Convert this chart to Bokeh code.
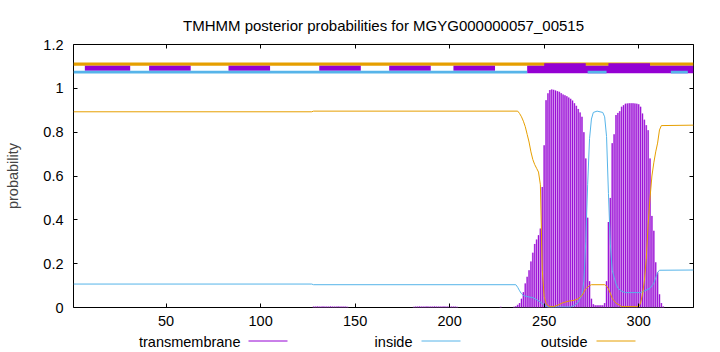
from bokeh.plotting import figure
from bokeh.layouts import column
from bokeh.models import Range1d, FixedTicker, LinearAxis
from bokeh.core.properties import value
from bokeh.embed import file_html
from bokeh.resources import INLINE

# ---------------- data ----------------
title_text = "TMHMM posterior probabilities for MGYG000000057_00515"
seq_start = 1
seq_end = 329

inside_pos = [1, 127, 128, 235, 236, 237, 238, 239, 240, 242, 244, 246, 248, 250, 252,
              264, 266, 268, 270, 271, 272, 273, 274, 275, 276, 278, 281, 282, 283, 284,
              285, 286, 287, 288, 289, 291, 293, 301, 303, 306, 308, 309, 310, 311, 329]
inside_prob = [0.107, 0.107, 0.104, 0.104, 0.092, 0.076, 0.063, 0.055, 0.052, 0.048,
               0.045, 0.036, 0.025, 0.01, 0.002, 0.002, 0.01, 0.023, 0.06, 0.12,
               0.3, 0.56, 0.77, 0.86, 0.89, 0.896, 0.89, 0.87, 0.78, 0.52,
               0.29, 0.17, 0.138, 0.108, 0.088, 0.074, 0.068, 0.068, 0.075, 0.088,
               0.11, 0.135, 0.16, 0.17, 0.171]

outside_pos = [1, 127, 128, 236, 237, 238, 239, 240, 241, 242, 243, 244, 245, 246, 247,
               248, 249, 250, 251, 252, 253, 255, 257, 260, 263, 266, 268, 270, 271, 272,
               274, 275, 282, 283, 284, 285, 286, 287, 288, 290, 291, 300, 301, 302, 303,
               304, 305, 306, 307, 308, 309, 310, 311, 312, 329]
outside_prob = [0.893, 0.893, 0.896, 0.896, 0.885, 0.87, 0.85, 0.825, 0.79, 0.755,
                0.71, 0.675, 0.652, 0.635, 0.618, 0.56, 0.17, 0.05, 0.02, 0.008,
                0.004, 0.004, 0.01, 0.022, 0.029, 0.033, 0.04, 0.055, 0.07, 0.085,
                0.1, 0.104, 0.104, 0.098, 0.085, 0.065, 0.042, 0.03, 0.02, 0.01,
                0.004, 0.004, 0.02, 0.06, 0.12, 0.22, 0.38, 0.5, 0.6, 0.66,
                0.71, 0.75, 0.81, 0.83, 0.832]

tm_pos = ([128, 129, 130, 131, 132, 133, 134, 135, 136, 137, 138, 139, 140, 141, 142, 143,
           144, 145, 146]
          + [181, 182, 183, 184, 185, 186, 187, 188, 189, 190, 191, 192, 193, 194, 195, 196,
             197, 198, 199, 200, 201, 202, 203, 204]
          + [227, 234, 235, 236, 237, 238, 239, 240, 241, 242, 243, 244, 245, 246, 247, 248,
             249, 250, 251, 252, 253, 254, 255, 256, 257, 258, 259, 260, 261, 262, 263, 264,
             265, 266, 267, 268, 269, 270, 271, 272, 273, 274, 275, 276, 277, 278, 279, 280,
             281, 282, 283, 284, 285, 286, 287, 288, 289, 290, 291, 292, 293, 294, 295, 296,
             297, 298, 299, 300, 301, 302, 303, 304, 305, 306, 307, 308, 309, 310, 311, 312,
             313])
tm_prob = ([0.004, 0.004, 0.005, 0.004, 0.004, 0.005, 0.004, 0.004, 0.004, 0.005, 0.004,
            0.004, 0.004, 0.005, 0.004, 0.004, 0.004, 0.004, 0.003]
           + [0.003, 0.004, 0.004, 0.005, 0.004, 0.004, 0.004, 0.005, 0.004, 0.004, 0.004,
              0.005, 0.004, 0.004, 0.004, 0.004, 0.005, 0.004, 0.004, 0.004, 0.004, 0.004,
              0.004, 0.003]
           + [0.003, 0.003, 0.006, 0.012, 0.02, 0.04, 0.07, 0.11, 0.14, 0.17, 0.21, 0.25,
              0.29, 0.31, 0.33, 0.36, 0.55, 0.74, 0.946, 0.977, 0.992, 0.995, 0.993, 0.99,
              0.987, 0.984, 0.978, 0.972, 0.968, 0.964, 0.958, 0.952, 0.944, 0.932, 0.92,
              0.906, 0.89, 0.87, 0.8, 0.68, 0.41, 0.12, 0.04, 0.015, 0.01, 0.01, 0.01, 0.01,
              0.01, 0.02, 0.12, 0.39, 0.5, 0.75, 0.79, 0.878, 0.888, 0.896, 0.916, 0.923,
              0.93, 0.931, 0.932, 0.932, 0.932, 0.931, 0.93, 0.927, 0.916, 0.885, 0.857,
              0.832, 0.809, 0.68, 0.418, 0.35, 0.206, 0.16, 0.06, 0.02, 0.005])

# topology bars drawn above the curves (residue ranges)
top_outside_start = [1]
top_outside_end = [329]
top_tm_start = [7, 41, 83, 131, 168, 202]
top_tm_end = [31, 63, 105, 153, 190, 224]
top_tm_wide_start = [241]
top_tm_wide_end = [329]
top_tm_tall_start = [250, 284]
top_tm_tall_end = [272, 306]
top_inside_start = [1, 273, 317]
top_inside_end = [241, 283, 326]

x_ticks = [50, 100, 150, 200, 250, 300]
y_ticks = [0, 0.2, 0.4, 0.6, 0.8, 1.0, 1.2]
y_tick_labels = ["0", "0.2", "0.4", "0.6", "0.8", "1", "1.2"]
legend_labels = ["transmembrane", "inside", "outside"]

# ---------------- style ----------------
FONT = "Liberation Sans"
FS = "14.5px"
PURPLE = "#9400d3"
LAVENDER = "#cf8cec"
BLUE = "#56b4e9"
ORANGE = "#e69f00"

p = figure(width=720, height=332, x_range=Range1d(seq_start, seq_end), y_range=Range1d(0, 1.2),
           output_backend="svg", toolbar_location=None, title=title_text,
           min_border_left=73, min_border_right=27, min_border_top=44, min_border_bottom=25)
p.grid.visible = False
p.outline_line_color = "black"
p.outline_line_width = 1
p.background_fill_color = "white"
p.border_fill_color = "white"
p.title.align = "center"
p.title.text_font = FONT
p.title.text_font_size = "15px"
p.title.text_font_style = "normal"
p.title.text_color = "black"
p.title.standoff = 21

# topology bars
p.quad(left=top_outside_start, right=top_outside_end, bottom=1.103, top=1.118,
       fill_color=ORANGE, line_color=None)
p.quad(left=top_tm_start, right=top_tm_end, bottom=1.080, top=1.103,
       fill_color=PURPLE, line_color=None)
p.quad(left=top_tm_wide_start, right=top_tm_wide_end, bottom=1.069, top=1.103,
       fill_color=PURPLE, line_color=None)
p.quad(left=top_inside_start, right=top_inside_end, bottom=1.068, top=1.080,
       fill_color=BLUE, line_color=None)
p.quad(left=top_tm_tall_start, right=top_tm_tall_end, bottom=1.080, top=1.114,
       fill_color=PURPLE, line_color=None)

# curves (impulses: soft halo plus dark core, as the anti-aliased original)
p.segment(x0=tm_pos, y0=0, x1=tm_pos, y1=tm_prob, line_color=LAVENDER, line_width=1.9)
p.segment(x0=tm_pos, y0=0, x1=tm_pos, y1=tm_prob, line_color=PURPLE, line_width=0.9)
p.line(inside_pos, inside_prob, line_color=BLUE, line_width=1)
p.line(outside_pos, outside_prob, line_color=ORANGE, line_width=1)

# axes
xa = p.xaxis[0]
xa.ticker = FixedTicker(ticks=x_ticks)
ya = p.yaxis[0]
ya.ticker = FixedTicker(ticks=y_ticks)
ya.major_label_overrides = {t: l for t, l in zip(y_ticks, y_tick_labels)}
ya.axis_label = "probability"
ya.axis_label_text_font = FONT
ya.axis_label_text_font_size = FS
ya.axis_label_text_font_style = "normal"
ya.axis_label_standoff = 19
for ax in (xa, ya):
    ax.major_tick_in = 4
    ax.major_tick_out = 0
    ax.minor_tick_line_color = None
    ax.axis_line_color = None
    ax.major_tick_line_color = "black"
    ax.major_label_text_font = FONT
    ax.major_label_text_font_size = FS
    ax.major_label_text_color = "black"
xa.major_label_standoff = 8
ya.major_label_standoff = 10

# mirrored ticks
ra = LinearAxis(ticker=FixedTicker(ticks=y_ticks), major_tick_in=4, major_tick_out=0,
                minor_tick_line_color=None, axis_line_color=None,
                major_label_text_font_size="0px", major_label_text_color=None,
                major_label_standoff=0)
ta = LinearAxis(ticker=FixedTicker(ticks=x_ticks), major_tick_in=4, major_tick_out=0,
                minor_tick_line_color=None, axis_line_color=None,
                major_label_text_font_size="0px", major_label_text_color=None,
                major_label_standoff=0)
p.add_layout(ra, "right")
p.add_layout(ta, "above")

# legend strip (x measured in page pixels, frame aligned with the plot above)
lg = figure(width=720, height=20, x_range=Range1d(73, 693), y_range=Range1d(0, 20),
            output_backend="svg", toolbar_location=None,
            min_border_left=73, min_border_right=27, min_border_top=0, min_border_bottom=0,
            x_axis_location=None, y_axis_location=None)
lg.grid.visible = False
lg.outline_line_color = None
lg.background_fill_color = "white"
lg.border_fill_color = "white"
lg.text(x=[240, 412, 587], y=[11, 11, 11], text=legend_labels, text_align="right",
        text_baseline="middle", text_font=value(FONT), text_font_size=FS, text_color="black")
lg.segment(x0=[248, 421, 596], y0=[11.5, 11.5, 11.5], x1=[287, 460, 635], y1=[11.5, 11.5, 11.5],
           line_color=[PURPLE, BLUE, ORANGE], line_width=1)

layout = column(p, lg, spacing=0)
open("out.html", "w").write(file_html(layout, INLINE))
